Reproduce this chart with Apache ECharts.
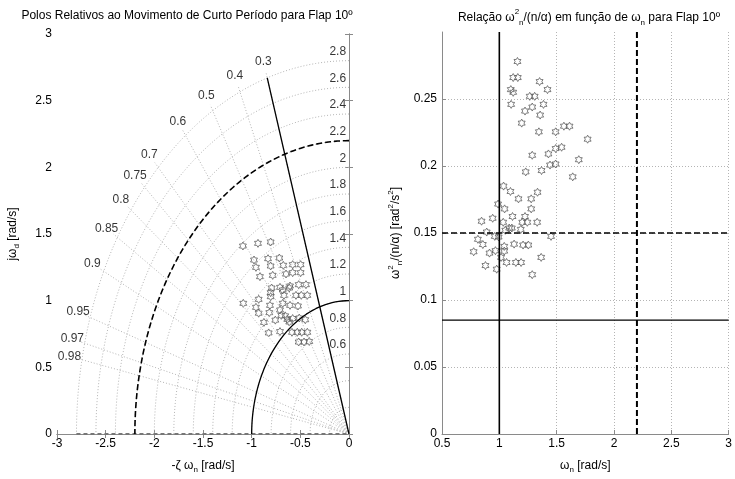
<!DOCTYPE html>
<html>
<head>
<meta charset="utf-8">
<script src="https://cdn.jsdelivr.net/npm/echarts@6/dist/echarts.min.js"></script>
<style>
html,body{margin:0;padding:0;background:#fff}
#chart{width:735px;height:479px}
</style>
</head>
<body>
<div id="chart"></div>
<script>
// polos do curto periodo (parte real, parte imaginaria)
let leftPoles = [
  [-1.09,1.41],[-0.935,1.43],[-0.805,1.44],[-0.976,1.305],[-0.832,1.315],[-0.716,1.32],
  [-0.956,1.25],[-0.805,1.26],[-0.675,1.265],[-0.579,1.27],[-0.497,1.27],
  [-0.915,1.18],[-0.784,1.19],[-0.647,1.20],[-0.579,1.21],[-0.497,1.21],
  [-0.795,1.095],[-0.709,1.10],[-0.606,1.11],[-0.517,1.12],[-0.442,1.12],
  [-0.805,1.06],[-0.681,1.08],[-0.614,1.095],[-0.545,1.04],[-0.49,1.04],[-0.428,1.04],
  [-0.805,1.03],[-0.668,1.04],[-1.086,0.98],[-0.928,1.01],[-0.956,0.95],[-0.928,0.906],
  [-0.812,0.965],[-0.681,0.98],[-0.606,0.965],[-0.524,0.96],[-0.819,0.91],[-0.709,0.93],
  [-0.696,0.89],[-0.655,0.886],[-0.634,0.86],[-0.579,0.866],[-0.511,0.87],
  [-0.874,0.837],[-0.757,0.854],[-0.614,0.84],[-0.449,0.857],
  [-0.825,0.758],[-0.709,0.768],[-0.586,0.763],[-0.531,0.763],[-0.486,0.763],[-0.428,0.763],
  [-0.517,0.69],[-0.462,0.69],[-0.408,0.694]
];
// wn x wn^2/(n/alpha)
let rightPoints = [
  [1.158,0.278],[1.121,0.266],[1.161,0.266],[1.10,0.257],[1.121,0.255],[1.103,0.246],
  [1.351,0.263],[1.42,0.257],[1.265,0.252],[1.308,0.252],[1.385,0.246],[1.224,0.241],
  [1.287,0.244],[1.356,0.238],[1.195,0.232],[1.345,0.2255],[1.491,0.2255],[1.563,0.2297],
  [1.612,0.2297],[1.77,0.22],[1.491,0.213],[1.543,0.214],[1.287,0.208],[1.428,0.209],
  [1.442,0.2007],[1.491,0.2015],[1.693,0.2047],[1.23,0.1956],[1.368,0.1966],[1.64,0.1919],
  [1.037,0.185],[1.097,0.181],[1.333,0.1804],[1.167,0.1755],[1.278,0.1755],[0.989,0.1716],
  [1.046,0.168],[1.278,0.168],[0.845,0.1588],[0.942,0.161],[1.115,0.1623],[1.224,0.1623],
  [1.034,0.158],[1.20,0.158],[1.244,0.158],[1.33,0.158],[1.086,0.1537],[1.109,0.1537],
  [1.187,0.1527],[0.89,0.1507],[1.052,0.152],[1.451,0.1475],[0.96,0.1475],[0.994,0.147],
  [0.813,0.1453],[0.856,0.1414],[0.776,0.136],[0.914,0.135],[0.966,0.1368],[1.043,0.140],
  [1.043,0.1365],[1.129,0.1417],[1.207,0.141],[1.253,0.141],[1.015,0.1318],[1.063,0.128],
  [1.144,0.128],[1.19,0.128],[0.879,0.1257],[0.977,0.123],[1.365,0.1318],[1.287,0.1189]
];
let wnGrid = [0.2,0.4,0.6,0.8,1,1.2,1.4,1.6,1.8,2,2.2,2.4,2.6,2.8];
let wnLabels = [0.6,0.8,1,1.2,1.4,1.6,1.8,2,2.2,2.4,2.6,2.8];
let zetaGrid = [0.3,0.4,0.5,0.6,0.7,0.75,0.8,0.85,0.9,0.95,0.97,0.98];
let wnLimits = [1, 2.2];       // circulo solido / tracejado
let zetaMin = 0.3;
let ratioLimits = [0.085, 0.15];

const font = 'Liberation Sans, Arial, sans-serif';
const gridGray = '#b4b4b4';
const axisGray = '#8a8a8a';
const hexagram = 'path://M0,-10L2.885,-5L8.66,-5L5.77,0L8.66,5L2.885,5L0,10L-2.885,5L-8.66,5L-5.77,0L-8.66,-5L-2.885,-5Z';
const rich = {
  sub: {fontSize: 8, verticalAlign: 'bottom', fontFamily: font},
  sup: {fontSize: 8, verticalAlign: 'top', fontFamily: font}
};

function arc(r) {
  let pts = [];
  for (let i = 0; i <= 90; i++) {
    let a = (90 + i) * Math.PI / 180;
    pts.push([r * Math.cos(a), r * Math.sin(a)]);
  }
  return pts;
}
function ray(z, r) {
  return [[0, 0], [-z * r, Math.sqrt(1 - z * z) * r]];
}

let series = [];
wnGrid.forEach(r => series.push({
  type: 'line', xAxisIndex: 0, yAxisIndex: 0, data: arc(r), symbol: 'none', silent: true,
  lineStyle: {color: gridGray, width: 1, type: [1, 2]}
}));
zetaGrid.forEach(z => series.push({
  type: 'line', xAxisIndex: 0, yAxisIndex: 0, data: ray(z, 2.85), symbol: 'none', silent: true,
  lineStyle: {color: gridGray, width: 1, type: [1, 2]}
}));
series.push({
  type: 'line', xAxisIndex: 0, yAxisIndex: 0, data: [[-2.8, 0], [0, 0]], symbol: 'none',
  lineStyle: {color: '#777', width: 2, type: [4, 3]}
});
series.push({
  type: 'line', xAxisIndex: 0, yAxisIndex: 0, data: arc(wnLimits[1]), symbol: 'none',
  lineStyle: {color: '#000', width: 1.6, type: [6, 3]}
});
series.push({
  type: 'line', xAxisIndex: 0, yAxisIndex: 0, data: arc(wnLimits[0]), symbol: 'none',
  lineStyle: {color: '#000', width: 1.3}
});
series.push({
  type: 'line', xAxisIndex: 0, yAxisIndex: 0, data: ray(zetaMin, 2.8), symbol: 'none',
  lineStyle: {color: '#000', width: 1.3}
});
series.push({
  type: 'scatter', xAxisIndex: 0, yAxisIndex: 0, symbolSize: 0,
  data: zetaGrid.map(z => [-z * 2.93, Math.sqrt(1 - z * z) * 2.93, z]),
  label: {show: true, position: 'inside', formatter: p => p.value[2], color: '#000', fontSize: 12, fontFamily: font}
});
series.push({
  type: 'scatter', xAxisIndex: 0, yAxisIndex: 0, symbolSize: 0,
  data: wnLabels.map(r => [-0.03, r, r]),
  label: {show: true, position: 'left', offset: [0, -9], distance: 0, formatter: p => p.value[2], color: '#000', fontSize: 12, fontFamily: font}
});
series.push({
  type: 'scatter', xAxisIndex: 0, yAxisIndex: 0, data: leftPoles,
  symbol: hexagram, symbolKeepAspect: true, symbolSize: 8,
  itemStyle: {color: 'rgba(0,0,0,0)', borderColor: '#5e5e5e', borderWidth: 1}
});

// grafico da direita
series.push({
  type: 'line', xAxisIndex: 2, yAxisIndex: 2, data: [[0.5, ratioLimits[1]], [3, ratioLimits[1]]], symbol: 'none',
  lineStyle: {color: '#000', width: 1.6, type: [6, 3]}
});
series.push({
  type: 'line', xAxisIndex: 2, yAxisIndex: 2, data: [[0.5, ratioLimits[0]], [3, ratioLimits[0]]], symbol: 'none',
  lineStyle: {color: '#000', width: 1.2}
});
series.push({
  type: 'line', xAxisIndex: 2, yAxisIndex: 2, data: [[wnLimits[1], 0], [wnLimits[1], 0.3]], symbol: 'none',
  lineStyle: {color: '#000', width: 2, type: [6, 3]}
});
series.push({
  type: 'line', xAxisIndex: 2, yAxisIndex: 2, data: [[wnLimits[0], 0], [wnLimits[0], 0.3]], symbol: 'none',
  lineStyle: {color: '#000', width: 1.6}
});
series.push({
  type: 'scatter', xAxisIndex: 2, yAxisIndex: 2, data: rightPoints,
  symbol: hexagram, symbolKeepAspect: true, symbolSize: 8,
  itemStyle: {color: 'rgba(0,0,0,0)', borderColor: '#5e5e5e', borderWidth: 1}
});

const lbl = {color: '#000', fontSize: 12, fontFamily: font};
const boxAxis = {
  axisLine: {show: true, lineStyle: {color: axisGray}},
  axisTick: {show: true, inside: true, length: 4, lineStyle: {color: axisGray}},
  axisLabel: {show: false}, splitLine: {show: false}
};
const nameStyle = {fontSize: 12, color: '#000', fontFamily: font, lineHeight: 17, rich: rich};

let option = {
  animation: false,
  backgroundColor: '#fff',
  title: [
    {text: 'Polos Relativos ao Movimento de Curto Período para Flap 10º', left: 182, textAlign: 'center', top: 5,
     textStyle: {fontSize: 12, fontWeight: 'normal', color: '#000', fontFamily: font}},
    {text: 'Relação ω{sup|2}{sub|n}/(n/α) em função de ω{sub|n} para Flap 10º', left: 584, textAlign: 'center', top: 3,
     textStyle: {fontSize: 12, fontWeight: 'normal', color: '#000', fontFamily: font, lineHeight: 19, rich: rich}}
  ],
  grid: [
    {left: 57, top: 34, width: 292, height: 406},
    {left: 442, top: 32, width: 290, height: 408}
  ],
  xAxis: [
    {type: 'value', gridIndex: 0, min: -3, max: 0, interval: 0.5,
     name: '-ζ ω{sub|n} [rad/s]', nameLocation: 'middle', nameGap: 23, nameTextStyle: nameStyle,
     axisLine: {lineStyle: {color: axisGray}}, axisTick: {inside: true, length: 4, lineStyle: {color: axisGray}},
     axisLabel: Object.assign({margin: 4}, lbl), splitLine: {show: false}},
    Object.assign({type: 'value', gridIndex: 0, min: -3, max: 0, interval: 0.5, position: 'top'}, boxAxis),
    {type: 'value', gridIndex: 1, min: 0.5, max: 3, interval: 0.5,
     name: 'ω{sub|n} [rad/s]', nameLocation: 'middle', nameGap: 23, nameTextStyle: nameStyle,
     axisLine: {lineStyle: {color: axisGray}}, axisTick: {inside: true, length: 4, lineStyle: {color: axisGray}},
     axisLabel: Object.assign({margin: 4}, lbl),
     splitLine: {show: true, showMinLine: false, lineStyle: {color: gridGray, type: [1, 2]}}}
  ],
  yAxis: [
    {type: 'value', gridIndex: 0, min: 0, max: 3, interval: 0.5,
     name: 'jω{sub|d} [rad/s]', nameLocation: 'middle', nameGap: 36, nameTextStyle: nameStyle,
     axisLine: {lineStyle: {color: axisGray}}, axisTick: {inside: true, length: 4, lineStyle: {color: axisGray}},
     axisLabel: Object.assign({margin: 5}, lbl), splitLine: {show: false}},
    Object.assign({type: 'value', gridIndex: 0, min: 0, max: 3, interval: 0.5, position: 'right'}, boxAxis),
    {type: 'value', gridIndex: 1, min: 0, max: 0.3, interval: 0.05,
     name: 'ω{sup|2}{sub|n}/(n/α) [rad{sup|2}/s{sup|2}]', nameLocation: 'middle', nameGap: 38, nameTextStyle: nameStyle,
     axisLine: {show: true, lineStyle: {color: axisGray}}, axisTick: {inside: true, length: 4, lineStyle: {color: axisGray}},
     axisLabel: Object.assign({margin: 5, showMaxLabel: false}, lbl),
     splitLine: {show: true, showMinLine: false, showMaxLine: false, lineStyle: {color: gridGray, type: [1, 2]}}}
  ],
  series: series
};

let chart = echarts.init(document.getElementById('chart'));
chart.setOption(option);
</script>
</body>
</html>
